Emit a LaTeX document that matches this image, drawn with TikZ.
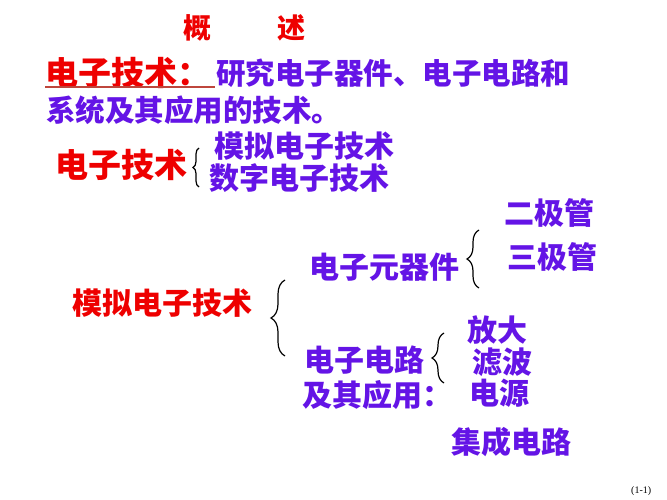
\documentclass[tikz,border=0pt]{standalone}
\usepackage{fontspec}
\setmainfont{Liberation Serif}
\newfontfamily\cjk{Noto Sans CJK SC}[UprightFont=* Black]
\usetikzlibrary{decorations.pathreplacing}
\definecolor{redtxt}{RGB}{238,0,0}
\definecolor{purpletxt}{RGB}{100,20,230}
\definecolor{lineclr}{RGB}{190,70,60}

\begin{document}
\begin{tikzpicture}[x=1pt,y=-1pt,
  redword/.style={anchor=west,inner sep=0pt,text=redtxt,font=\cjk\fontsize{#1}{#1}\selectfont},
  redword/.default=30,
  blueword/.style={anchor=west,inner sep=0pt,text=purpletxt,font=\cjk\fontsize{#1}{#1}\selectfont},
  blueword/.default=30,
  curly/.style={decorate,decoration={brace,amplitude=#1},line width=1.2pt}]
\useasboundingbox[fill=white] (0,0) rectangle (667,500);
% title
\node[redword=28] at (183,28) (gai) {概};
\node[redword=28] at (277,28) (shu) {述};
% definition
\node[redword=33] at (45,73) (def) {电子技术：};
\draw[lineclr,line width=1.5pt] (45,87) -- (215,87);
\node[blueword=29.5] at (216,73) (defa) {研究电子器件、电子电路和};
\node[blueword=29.5] at (46,110) (defb) {系统及其应用的技术。};
% two kinds
\node[redword=33] at (55,165) (et) {电子技术};
\node[blueword] at (214,146) (analog) {模拟电子技术};
\node[blueword] at (209,178) (digital) {数字电子技术};
\coordinate (b1top) at (199,148);
\coordinate (b1bot) at (199,187);
\draw[curly=6] (b1bot) -- (b1top);
% analog part
\node[redword] at (72,303) (amt) {模拟电子技术};
\coordinate (b2top) at (285,280);
\coordinate (b2bot) at (285,356);
\draw[curly=14] (b2bot) -- (b2top);
\node[blueword] at (309,267) (parts) {电子元器件};
\node[blueword] at (504,213) (diode) {二极管};
\node[blueword] at (507,257) (triode) {三极管};
\coordinate (b3top) at (479,230);
\coordinate (b3bot) at (479,288);
\draw[curly=12] (b3bot) -- (b3top);
\node[blueword] at (304,360) (circ) {电子电路};
\node[blueword] at (302,395) (appl) {及其应用：};
\coordinate (b4top) at (444,333);
\coordinate (b4bot) at (444,383);
\draw[curly=12] (b4bot) -- (b4top);
\node[blueword] at (467,330) (amp) {放大};
\node[blueword] at (472,362) (filt) {滤波};
\node[blueword] at (469,393) (power) {电源};
\node[blueword] at (451,442) (ic) {集成电路};
% page number
\node[anchor=west,inner sep=0pt,font=\fontsize{10}{10}\selectfont] at (631,491) (page) {(1-1)};
\end{tikzpicture}
\end{document}
